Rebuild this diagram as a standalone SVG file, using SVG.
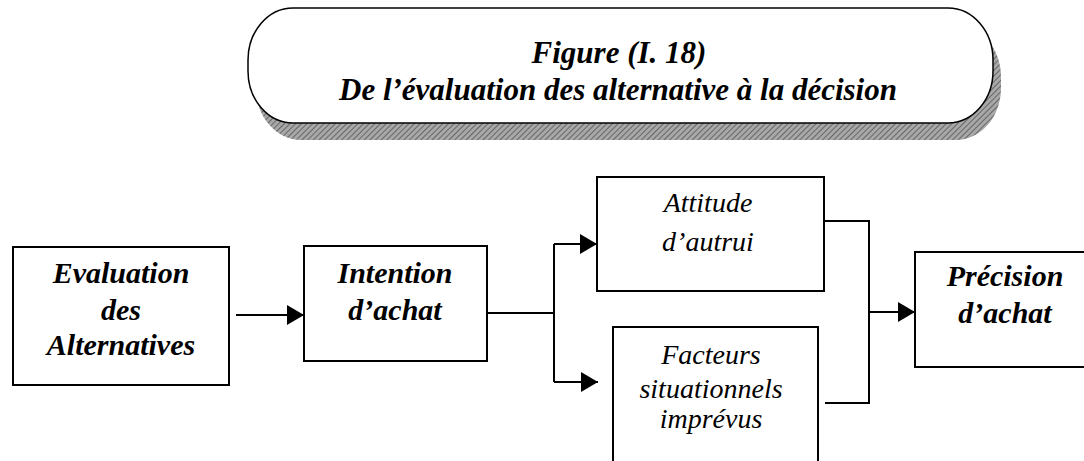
<svg xmlns="http://www.w3.org/2000/svg" width="1084" height="461" viewBox="0 0 1084 461">
  <style>
    .box { fill: #fff; stroke: #000; stroke-width: 2; }
    .wire { fill: none; stroke: #000; stroke-width: 2; }
    text { font-family: 'Liberation Serif', 'Times New Roman', serif; font-style: italic; font-size: 28px; text-anchor: middle; fill: #000; }
    .b { font-weight: bold; font-size: 30px; }
    .t { font-weight: bold; font-size: 31px; }
  </style>
  <defs>
    <pattern id="hatch" width="4" height="4" patternUnits="userSpaceOnUse" patternTransform="rotate(45)">
      <rect width="4" height="4" fill="#a8a8a8"/>
      <line x1="0" y1="0" x2="0" y2="4" stroke="#555" stroke-width="1.6"/>
    </pattern>
    <marker id="arrow" markerUnits="userSpaceOnUse" markerWidth="17" markerHeight="20" refX="17" refY="10" orient="auto">
      <path d="M0,0 L17,10 L0,20 z" fill="#000"/>
    </marker>
  </defs>

  <!-- title banner with drop shadow -->
  <g id="title">
    <rect x="256" y="25" width="745" height="115" rx="45" ry="52" fill="url(#hatch)"/>
    <rect x="248" y="8" width="745" height="115" rx="45" ry="52" fill="#fff" stroke="#000" stroke-width="1.5"/>
    <text class="t" x="619" y="63">Figure (I. 18)</text>
    <text class="t" x="618" y="100">De l’évaluation des alternative à la décision</text>
  </g>

  <!-- connectors -->
  <g id="connectors">
    <line class="wire" x1="236" y1="315" x2="304" y2="315" marker-end="url(#arrow)"/>
    <polyline class="wire" points="487,313 554,313"/>
    <polyline class="wire" points="554,244 554,382"/>
    <line class="wire" x1="554" y1="244" x2="597" y2="244" marker-end="url(#arrow)"/>
    <line class="wire" x1="554" y1="382" x2="598" y2="382" marker-end="url(#arrow)"/>
    <polyline class="wire" points="823,221 869,221 869,403 825,403"/>
    <line class="wire" x1="869" y1="312" x2="915" y2="312" marker-end="url(#arrow)"/>
  </g>

  <g id="evaluation">
    <rect class="box" x="13" y="247" width="216" height="138"/>
    <text class="b" x="121" y="283">Evaluation</text>
    <text class="b" x="121" y="320">des</text>
    <text class="b" x="121" y="355">Alternatives</text>
  </g>

  <g id="intention">
    <rect class="box" x="304" y="246" width="183" height="115"/>
    <text class="b" x="395" y="283">Intention</text>
    <text class="b" x="395" y="320">d’achat</text>
  </g>

  <g id="attitude">
    <rect class="box" x="597" y="177" width="227" height="114"/>
    <text x="708" y="212">Attitude</text>
    <text x="708" y="251">d’autrui</text>
  </g>

  <g id="facteurs">
    <rect class="box" x="613" y="327" width="205" height="150"/>
    <text x="711" y="364">Facteurs</text>
    <text x="711" y="398">situationnels</text>
    <text x="711" y="428">imprévus</text>
  </g>

  <g id="precision">
    <rect class="box" x="915" y="252" width="180" height="115"/>
    <text class="b" x="1005" y="286">Précision</text>
    <text class="b" x="1005" y="323">d’achat</text>
  </g>
</svg>
